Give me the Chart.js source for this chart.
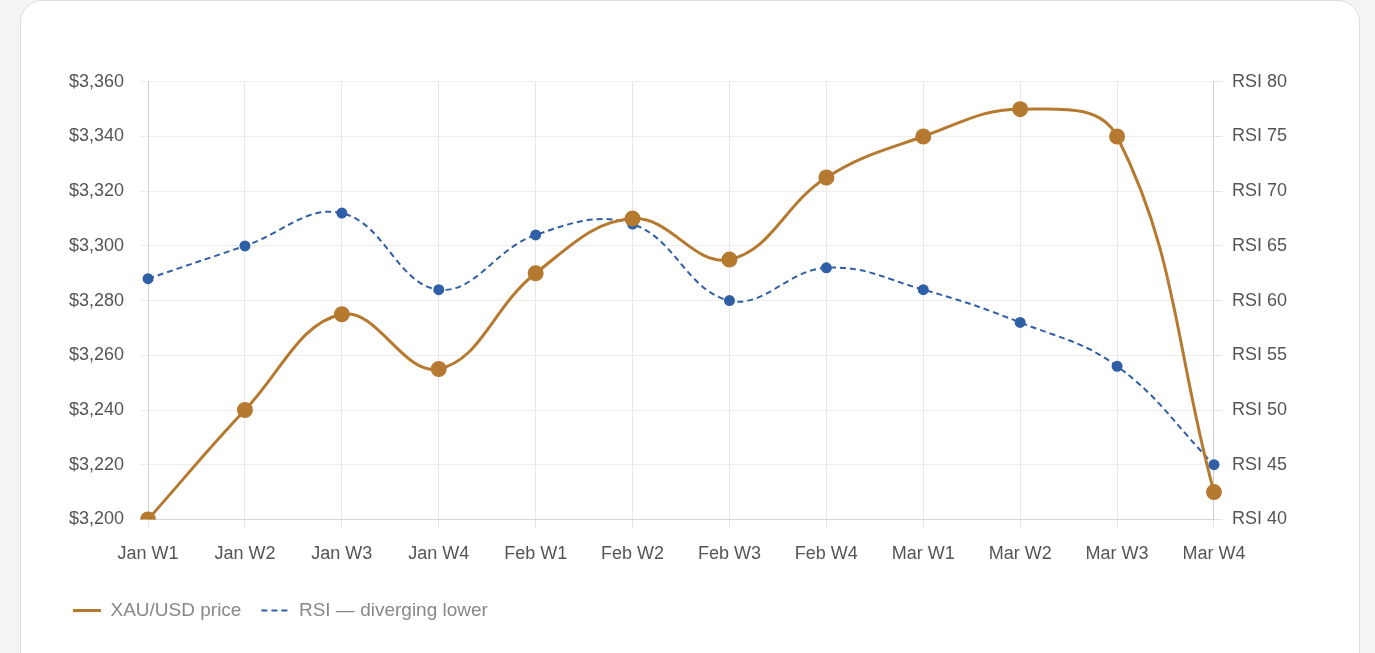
<!DOCTYPE html>
<html>
<head>
<meta charset="utf-8">
<script src="https://cdn.jsdelivr.net/npm/chart.js@4"></script>
<style>
  body { margin: 0; background: #f4f4f4; font-family: Inter, "Noto Sans", sans-serif; }
  .card { position: absolute; left: 20px; top: 0; width: 1340px; height: 700px; background: #fff;
          border: 1px solid #ddd; border-radius: 22px; box-sizing: border-box; }
  .wrap { position: absolute; left: 32px; top: 54px; width: 1244px; height: 575px; }
</style>
</head>
<body>
<div class="card"><div class="wrap"><canvas id="chart"></canvas></div></div>
<script>
// Weekly gold price vs RSI
const weeks = ['Jan W1', 'Jan W2', 'Jan W3', 'Jan W4', 'Feb W1', 'Feb W2', 'Feb W3', 'Feb W4', 'Mar W1', 'Mar W2', 'Mar W3', 'Mar W4'];
const priceValues = [3200, 3240, 3275, 3255, 3290, 3310, 3295, 3325, 3340, 3350, 3340, 3210];
const rsiValues = [62, 65, 68, 61, 66, 67, 60, 63, 61, 58, 54, 45];

const gold = '#b57a30';
const blue = '#2f5fa6';
const textColor = '#555';

new Chart(document.getElementById('chart'), {
  type: 'line',
  data: {
    labels: weeks,
    datasets: [
      {
        label: 'XAU/USD price',
        data: priceValues,
        borderColor: gold,
        backgroundColor: gold,
        borderWidth: 3,
        pointRadius: 6.5,
        tension: 0.4,
        yAxisID: 'y'
      },
      {
        label: 'RSI — diverging lower',
        data: rsiValues,
        borderColor: blue,
        backgroundColor: blue,
        borderWidth: 2,
        borderDash: [6, 4],
        pointRadius: 4.5,
        tension: 0.4,
        yAxisID: 'y1'
      }
    ]
  },
  options: {
    responsive: true,
    maintainAspectRatio: false,
    animation: false,
    plugins: {
      legend: {
        position: 'bottom',
        align: 'start',
        labels: {
          boxWidth: 28,
          boxHeight: 0,
          color: '#888',
          font: { size: 19 },
          padding: 20
        }
      }
    },
    scales: {
      x: {
        grid: { color: '#e6e6e6' },
        ticks: { color: textColor, font: { size: 18 }, padding: 16 }
      },
      y: {
        position: 'left',
        min: 3200,
        max: 3360,
        ticks: {
          stepSize: 20,
          color: textColor,
          font: { size: 18 },
          padding: 16,
          callback: v => '$' + v.toLocaleString('en-US')
        },
        grid: { color: '#eeeeee' }
      },
      y1: {
        position: 'right',
        min: 40,
        max: 80,
        ticks: {
          stepSize: 5,
          color: textColor,
          font: { size: 18 },
          padding: 10,
          callback: v => 'RSI ' + v
        },
        grid: { drawOnChartArea: false }
      }
    }
  }
});
</script>
</body>
</html>
